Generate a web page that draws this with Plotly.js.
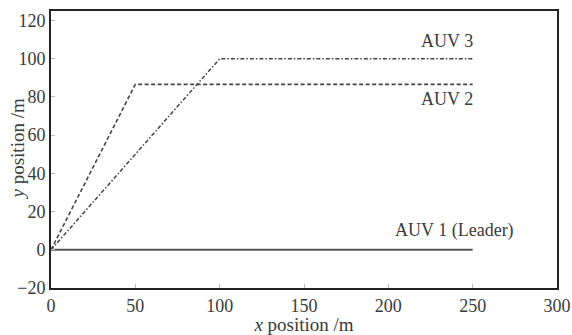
<!DOCTYPE html>
<html><head><meta charset="utf-8">
<script src="https://cdn.plot.ly/plotly-3.0.1.min.js"></script>
<style>html,body{margin:0;padding:0;background:#fff}#c{width:572px;height:335px}</style>
</head><body><div id="c"></div>
<script>
const auv1X = [0, 250];
const auv1Y = [0, 0];
const auv2X = [0, 50, 250];
const auv2Y = [0, 86.6, 86.6];
const auv3X = [0, 100, 250];
const auv3Y = [0, 100, 100];
const labelText = ["AUV 3", "AUV 2", "AUV 1 (Leader)"];
const labelX = [235, 235, 239];
const labelY = [109.5, 79, 10];
const xTicks = [0, 50, 100, 150, 200, 250, 300];
const yTicks = [-20, 0, 20, 40, 60, 80, 100, 120];

const font = {family: "Liberation Serif, Times New Roman, serif", size: 18, color: "#3a3a3a"};
const titleFont = {family: "Liberation Serif, Times New Roman, serif", size: 19, color: "#3a3a3a"};
const traces = [
  {x: auv1X, y: auv1Y, mode: "lines", line: {color: "#555", width: 2}},
  {x: auv2X, y: auv2Y, mode: "lines", line: {color: "#444", width: 1.6, dash: "4px,2.5px"}},
  {x: auv3X, y: auv3Y, mode: "lines", line: {color: "#444", width: 1.5, dash: "4px,2px,1.5px,2px"}}
];
const ax = {
  showgrid: false, zeroline: false, showline: true, linecolor: "#222", linewidth: 2, mirror: true,
  ticks: "inside", ticklen: 4, tickcolor: "#bbb", tickwidth: 1, tickfont: font
};
const annots = labelText.map((t, i) => ({x: labelX[i], y: labelY[i], text: t, showarrow: false,
    font: font, xanchor: "center", yanchor: "middle"}));
annots.push({xref: "paper", yref: "paper", x: (17 - 51) / 506, y: 0.5, text: "<i>y</i> position /m",
  textangle: -90, showarrow: false, font: titleFont, xanchor: "center", yanchor: "middle"});
const layout = {
  width: 572, height: 335,
  margin: {l: 51, r: 15, t: 11, b: 47},
  paper_bgcolor: "#fff", plot_bgcolor: "#fff",
  showlegend: false, font: font,
  xaxis: Object.assign({}, ax, {range: [0, 300], tickvals: xTicks, ticktext: xTicks.map(String),
    title: {text: "<i>x</i> position /m", font: titleFont, standoff: 2}}),
  yaxis: Object.assign({}, ax, {range: [-20, 125], tickvals: yTicks, ticktext: yTicks.map(v => v < 0 ? "\u2212" + Math.abs(v) : String(v))}),
  annotations: annots
};
Plotly.newPlot("c", traces, layout, {staticPlot: true});
</script></body></html>
